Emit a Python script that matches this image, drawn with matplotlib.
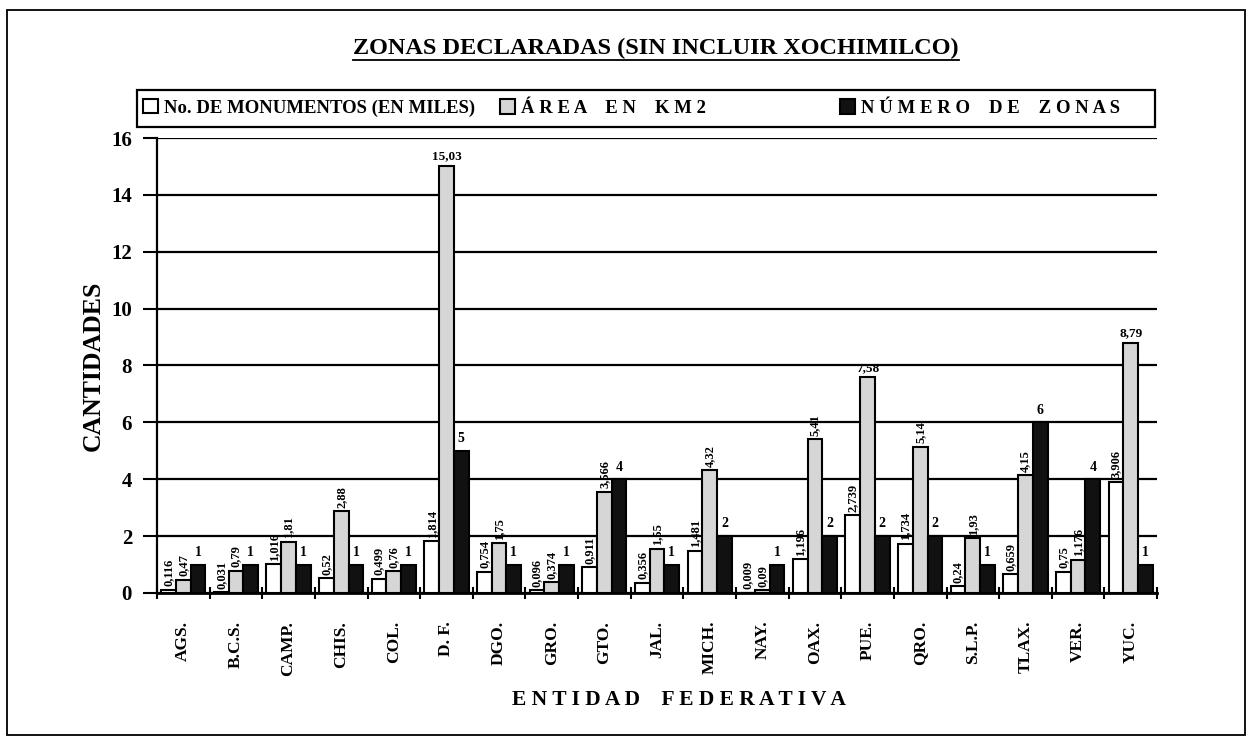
import numpy as np
import matplotlib.pyplot as plt
from matplotlib.patches import Rectangle
from matplotlib.lines import Line2D

estados = ['AGS.', 'B.C.S.', 'CAMP.', 'CHIS.', 'COL.', 'D. F.', 'DGO.', 'GRO.', 'GTO.', 'JAL.',
           'MICH.', 'NAY.', 'OAX.', 'PUE.', 'QRO.', 'S.L.P.', 'TLAX.', 'VER.', 'YUC.']
monumentos = [0.116, 0.031, 1.016, 0.52, 0.499, 1.814, 0.754, 0.096, 0.911, 0.356,
              1.481, 0.009, 1.196, 2.739, 1.734, 0.24, 0.659, 0.75, 3.906]
area = [0.47, 0.79, 1.81, 2.88, 0.76, 15.03, 1.75, 0.374, 3.566, 1.55,
        4.32, 0.09, 5.41, 7.58, 5.14, 1.93, 4.15, 1.176, 8.79]
zonas = [1, 1, 1, 1, 1, 5, 1, 1, 4, 1, 2, 1, 2, 2, 2, 1, 6, 4, 1]

plt.rcParams['font.family'] = ['Liberation Serif', 'DejaVu Serif']
plt.rcParams['font.weight'] = 'bold'
plt.rcParams['axes.labelweight'] = 'bold'

def fmt(v):
    return str(v).replace('.', ',')

fig = plt.figure(figsize=(12.51, 7.38), dpi=100)
ax = fig.add_axes([0.1255, 0.1965, 0.7994, 0.6165])

x = np.arange(len(estados))
w = 0.28
b1 = ax.bar(x - w, monumentos, w, color='white', edgecolor='black', linewidth=1.5,
            label='No. DE MONUMENTOS (EN MILES)', zorder=3)
b2 = ax.bar(x, area, w, color='#d6d6d6', edgecolor='black', linewidth=1.5,
            label='Á R E A    E N    K M 2', zorder=3)
b3 = ax.bar(x + w, zonas, w, color='#111111', edgecolor='black', linewidth=1.5,
            label='N Ú M E R O    D E    Z O N A S', zorder=3)

# etiquetas de valores
for xi, v in zip(x - w, monumentos):
    ax.text(xi, v + 0.12, fmt(v), rotation=90, ha='center', va='bottom', fontsize=9)
for xi, v in zip(x, area):
    if v > 7:
        ax.text(xi, v + 0.12, fmt(v), ha='center', va='bottom', fontsize=9.5)
    else:
        ax.text(xi, v + 0.12, fmt(v), rotation=90, ha='center', va='bottom', fontsize=9)
for xi, v in zip(x + w, zonas):
    ax.text(xi, v + 0.2, fmt(v), ha='center', va='bottom', fontsize=10)

ax.set_ylim(0, 16)
ax.set_xlim(-0.5, len(estados) - 0.5)
ax.set_yticks(np.arange(0, 17, 2))
ax.yaxis.grid(True, color='black', linewidth=1.6, zorder=0)
ax.set_axisbelow(True)
ax.set_xticks(x)
ax.set_xticklabels(estados, rotation=90, fontsize=12.5)
ax.set_xticks(np.arange(-0.5, len(estados), 1), minor=True)
ax.tick_params(axis='x', which='major', length=0, pad=20)
ax.tick_params(axis='x', which='minor', length=8, width=1.5, direction='inout')
ax.tick_params(axis='y', length=10, width=1.5, direction='out', pad=8, labelsize=15)
for s in ['top', 'right']:
    ax.spines[s].set_visible(False)
ax.spines['left'].set_linewidth(1.6)
ax.spines['bottom'].set_linewidth(2)

ax.set_ylabel('CANTIDADES', fontsize=18.5)
ax.yaxis.set_label_coords(-0.064, 0.5)
ax.yaxis.label.set_va('center')
ax.set_xlabel('E N T I D A D    F E D E R A T I V A', fontsize=15.5)
ax.xaxis.set_label_coords(0.522, -0.235)
ax.xaxis.label.set_va('center')

# leyenda: caja + una entrada en cada sitio
fig.add_artist(Rectangle((137 / 1251, 1 - 127 / 738), 1018 / 1251, 37 / 738, fill=False,
                         edgecolor='black', linewidth=1.6, transform=fig.transFigure))
kw = dict(fontsize=13.5, frameon=False, handlelength=0.8, handleheight=0.8,
          handletextpad=0.3, borderaxespad=0, borderpad=0)
for h, xpos in zip([b1, b2, b3], [143, 500, 840]):
    fig.legend(handles=[h], loc='center left', bbox_to_anchor=(xpos / 1251, 1 - 108 / 738), **kw)

t = fig.text(656 / 1251, 1 - 48 / 738, 'ZONAS DECLARADAS (SIN INCLUIR XOCHIMILCO)',
             ha='center', va='center', fontsize=17.5)
fig.canvas.draw()
bb = t.get_window_extent().transformed(fig.transFigure.inverted())
fig.add_artist(Line2D([bb.x0, bb.x1], [bb.y0 - 0.002, bb.y0 - 0.002], color='black', linewidth=1.3))

fig.add_artist(Rectangle((7 / 1251, 3 / 738), 1238 / 1251, 725 / 738, fill=False,
                         edgecolor='black', linewidth=1.3, transform=fig.transFigure))

fig.savefig('out.png', dpi=100)
